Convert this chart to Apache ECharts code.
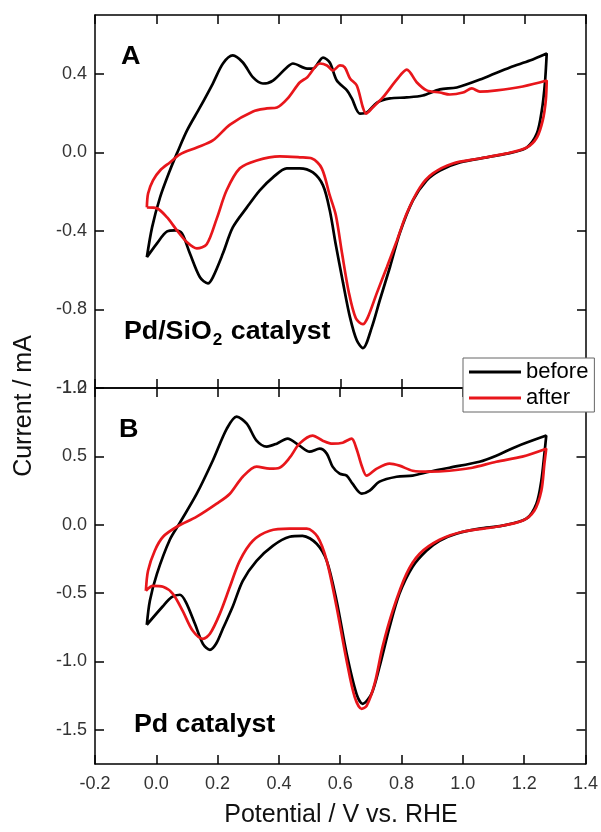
<!DOCTYPE html>
<html>
<head>
<meta charset="utf-8">
<script src="https://cdn.jsdelivr.net/npm/echarts@6/dist/echarts.min.js"></script>
<style>
  html, body { margin: 0; padding: 0; background: #fff; }
  #chart { width: 601px; height: 832px; }
</style>
</head>
<body>
<div id="chart"></div>
<script>
// tick values
const xTicks = [-0.2, 0.0, 0.2, 0.4, 0.6, 0.8, 1.0, 1.2, 1.4]
const yTicksA = [-1.2, -0.8, -0.4, 0.0, 0.4]
const yTicksB = [-1.5, -1.0, -0.5, 0.0, 0.5, 1.0]

// panel A (Pd/SiO2), [potential V, current mA], one closed CV loop each
const beforeA = [
  [-0.031, -0.534], [-0.014, -0.382], [0.012, -0.229], [0.044, -0.092], [0.067, -0.005],
  [0.100, 0.112], [0.142, 0.229], [0.184, 0.351], [0.217, 0.453], [0.249, 0.494],
  [0.282, 0.458], [0.315, 0.382], [0.347, 0.351], [0.380, 0.366], [0.425, 0.433],
  [0.445, 0.453], [0.491, 0.427], [0.510, 0.427], [0.543, 0.483], [0.565, 0.458],
  [0.588, 0.366], [0.621, 0.316], [0.637, 0.275], [0.663, 0.198], [0.686, 0.204],
  [0.719, 0.254], [0.761, 0.275], [0.816, 0.280], [0.868, 0.290], [0.924, 0.321],
  [0.979, 0.331], [1.064, 0.377], [1.152, 0.433], [1.217, 0.468], [1.272, 0.504],
  [1.266, 0.351], [1.256, 0.214], [1.240, 0.097], [1.207, 0.025], [1.161, 0.000],
  [1.077, -0.025], [0.989, -0.051], [0.924, -0.092], [0.881, -0.142], [0.836, -0.244],
  [0.793, -0.412], [0.761, -0.585], [0.728, -0.753], [0.702, -0.891], [0.673, -0.997],
  [0.653, -0.957], [0.631, -0.840], [0.608, -0.662], [0.585, -0.473], [0.565, -0.295],
  [0.543, -0.168], [0.510, -0.102], [0.467, -0.081], [0.425, -0.081], [0.380, -0.127],
  [0.337, -0.193], [0.295, -0.280], [0.249, -0.382], [0.217, -0.514], [0.184, -0.636],
  [0.168, -0.667], [0.142, -0.636], [0.109, -0.514], [0.083, -0.412], [0.061, -0.397],
  [0.035, -0.402], [0.002, -0.463], [-0.031, -0.534]
]
const afterA = [
  [-0.031, -0.280], [-0.027, -0.209], [-0.011, -0.142], [0.012, -0.092], [0.044, -0.051],
  [0.077, -0.010], [0.132, 0.025], [0.184, 0.061], [0.240, 0.142], [0.315, 0.209],
  [0.360, 0.224], [0.393, 0.229], [0.428, 0.275], [0.467, 0.356], [0.491, 0.382],
  [0.533, 0.453], [0.556, 0.443], [0.575, 0.417], [0.598, 0.443], [0.614, 0.433],
  [0.631, 0.377], [0.653, 0.341], [0.673, 0.229], [0.683, 0.198], [0.705, 0.229],
  [0.738, 0.280], [0.784, 0.372], [0.816, 0.422], [0.849, 0.356], [0.881, 0.316],
  [0.924, 0.305], [0.956, 0.295], [0.999, 0.305], [1.028, 0.326], [1.054, 0.310],
  [1.109, 0.316], [1.194, 0.336], [1.272, 0.366],
  [1.269, 0.265], [1.259, 0.163], [1.240, 0.076], [1.207, 0.025], [1.142, -0.005],
  [1.054, -0.031], [0.966, -0.056], [0.901, -0.107], [0.859, -0.178], [0.816, -0.310],
  [0.784, -0.448], [0.751, -0.585], [0.718, -0.718], [0.689, -0.840], [0.673, -0.875],
  [0.650, -0.845], [0.627, -0.712], [0.605, -0.514], [0.585, -0.321], [0.565, -0.219],
  [0.539, -0.081], [0.507, -0.031], [0.467, -0.025], [0.402, -0.020], [0.327, -0.041],
  [0.272, -0.081], [0.229, -0.193], [0.197, -0.336], [0.164, -0.468], [0.132, -0.489],
  [0.100, -0.458], [0.067, -0.397], [0.035, -0.331], [0.002, -0.285], [-0.031, -0.280]
]

// panel B (Pd)
const beforeB = [
  [-0.031, -0.732], [-0.021, -0.556], [0.002, -0.359], [0.044, -0.110], [0.077, 0.015],
  [0.132, 0.227], [0.184, 0.468], [0.230, 0.703], [0.262, 0.791], [0.295, 0.739],
  [0.327, 0.615], [0.360, 0.571], [0.393, 0.593], [0.428, 0.630], [0.467, 0.578],
  [0.500, 0.534], [0.533, 0.556], [0.556, 0.520], [0.575, 0.425], [0.598, 0.373],
  [0.621, 0.359], [0.640, 0.300], [0.670, 0.227], [0.696, 0.249], [0.728, 0.315],
  [0.784, 0.351], [0.836, 0.359], [0.891, 0.388], [0.956, 0.417], [1.054, 0.461],
  [1.109, 0.505], [1.174, 0.571], [1.272, 0.652],
  [1.266, 0.520], [1.256, 0.322], [1.240, 0.154], [1.207, 0.044], [1.129, -0.007],
  [1.054, -0.029], [0.979, -0.066], [0.924, -0.117], [0.881, -0.190], [0.836, -0.307],
  [0.793, -0.505], [0.761, -0.747], [0.728, -1.040], [0.702, -1.237], [0.673, -1.310],
  [0.653, -1.237], [0.621, -0.944], [0.588, -0.556], [0.556, -0.264], [0.523, -0.139],
  [0.477, -0.081], [0.435, -0.088], [0.380, -0.154], [0.327, -0.264], [0.282, -0.410],
  [0.249, -0.600], [0.217, -0.761], [0.195, -0.871], [0.175, -0.915], [0.152, -0.871],
  [0.126, -0.725], [0.096, -0.564], [0.077, -0.512], [0.050, -0.530], [0.020, -0.600],
  [-0.031, -0.732]
]
const afterB = [
  [-0.034, -0.483], [-0.027, -0.337], [-0.005, -0.190], [0.022, -0.088], [0.067, -0.015],
  [0.132, 0.059], [0.197, 0.154], [0.240, 0.227], [0.282, 0.351], [0.327, 0.425],
  [0.370, 0.410], [0.402, 0.417], [0.435, 0.490], [0.467, 0.593], [0.510, 0.652],
  [0.543, 0.615], [0.575, 0.593], [0.608, 0.600], [0.637, 0.630], [0.653, 0.556],
  [0.670, 0.432], [0.686, 0.359], [0.719, 0.410], [0.761, 0.447], [0.793, 0.432],
  [0.836, 0.395], [0.891, 0.388], [0.956, 0.395], [1.031, 0.417], [1.109, 0.461],
  [1.194, 0.498], [1.272, 0.556],
  [1.266, 0.447], [1.256, 0.249], [1.233, 0.102], [1.194, 0.029], [1.109, -0.015],
  [0.999, -0.051], [0.924, -0.110], [0.859, -0.212], [0.816, -0.359], [0.771, -0.630],
  [0.738, -0.893], [0.712, -1.164], [0.686, -1.325], [0.670, -1.347], [0.647, -1.259],
  [0.621, -0.996], [0.588, -0.600], [0.556, -0.264], [0.526, -0.088], [0.491, -0.029],
  [0.435, -0.029], [0.370, -0.044], [0.315, -0.117], [0.272, -0.264], [0.240, -0.454],
  [0.207, -0.652], [0.175, -0.798], [0.152, -0.835], [0.119, -0.776], [0.086, -0.630],
  [0.054, -0.505], [0.022, -0.454], [-0.011, -0.447], [-0.034, -0.483]
]

const FONT = 'Arial, "Liberation Sans", sans-serif'
const RED = '#e8161b'

const chart = echarts.init(document.getElementById('chart'))

function xAx(grid, pos, labels) {
  return {
    type: 'value', gridIndex: grid, position: pos, min: -0.2, max: 1.4,
    axisLine: { show: true, onZero: false, lineStyle: { color: '#000', width: 1.5 } },
    axisTick: { show: true, inside: true, length: 9, customValues: xTicks, lineStyle: { color: '#000', width: 1.5 } },
    axisLabel: {
      show: labels, customValues: xTicks, margin: 11, color: '#333',
      fontFamily: FONT, fontSize: 18, formatter: (v) => v.toFixed(1),
    },
    splitLine: { show: false },
  }
}
function yAx(grid, pos, min, max, ticks, labels) {
  return {
    type: 'value', gridIndex: grid, position: pos, min, max,
    axisLine: { show: true, onZero: false, lineStyle: { color: '#000', width: 1.5 } },
    axisTick: { show: true, inside: true, length: 9, customValues: ticks, lineStyle: { color: '#000', width: 1.5 } },
    axisLabel: {
      show: labels, customValues: ticks, margin: 8, color: '#333',
      fontFamily: FONT, fontSize: 18, formatter: (v) => v.toFixed(1),
    },
    splitLine: { show: false },
  }
}

const lineSeries = (name, data, color, xi, yi) => ({
  name, type: 'line', data, xAxisIndex: xi, yAxisIndex: yi,
  smooth: 0.3, showSymbol: false, symbol: 'none', silent: true,
  lineStyle: { color, width: 2.7 }, itemStyle: { color },
})

chart.setOption({
  animation: false,
  grid: [
    { left: 95, right: 15, top: 15, height: 373 },
    { left: 95, right: 15, top: 388, height: 376 },
  ],
  xAxis: [xAx(0, 'bottom', false), xAx(0, 'top', false), xAx(1, 'bottom', true), xAx(1, 'top', false)],
  yAxis: [
    yAx(0, 'left', -1.2, 0.7, yTicksA, true), yAx(0, 'right', -1.2, 0.7, yTicksA, false),
    yAx(1, 'left', -1.75, 1.0, yTicksB, true), yAx(1, 'right', -1.75, 1.0, yTicksB, false),
  ],
  legend: {
    data: ['before', 'after'], orient: 'vertical', left: 463, top: 358,
    icon: 'rect', itemWidth: 52, itemHeight: 3, itemGap: 4,
    padding: [3, 6, 3, 6], borderColor: '#666', borderWidth: 1, backgroundColor: '#fff',
    textStyle: { fontFamily: FONT, fontSize: 22, color: '#000' },
  },
  series: [
    lineSeries('before', beforeA, '#000', 0, 0),
    lineSeries('after', afterA, RED, 0, 0),
    lineSeries('before', beforeB, '#000', 2, 2),
    lineSeries('after', afterB, RED, 2, 2),
  ],
  graphic: [
    { type: 'text', x: 121, y: 57, scaleX: 1.08, style: { text: 'A', font: 'bold 25px ' + FONT, fill: '#000', verticalAlign: 'middle' } },
    { type: 'text', x: 119, y: 430, scaleX: 1.08, style: { text: 'B', font: 'bold 25px ' + FONT, fill: '#000', verticalAlign: 'middle' } },
    {
      type: 'text', x: 124, y: 320, scaleX: 1.07,
      style: {
        text: '{b|Pd/SiO}{s|2}{b| catalyst}', verticalAlign: 'top',
        rich: {
          b: { fontFamily: FONT, fontWeight: 'bold', fontSize: 25, lineHeight: 28, verticalAlign: 'top', fill: '#000' },
          s: { fontFamily: FONT, fontWeight: 'bold', fontSize: 16, lineHeight: 16, padding: [14, 1, 0, 1], fill: '#000' },
        },
      },
    },
    { type: 'text', x: 134, y: 725, scaleX: 1.07, style: { text: 'Pd catalyst', font: 'bold 25px ' + FONT, fill: '#000', verticalAlign: 'middle' } },
    {
      type: 'text', x: 24, y: 406, rotation: Math.PI / 2,
      style: { text: 'Current / mA', font: '25px ' + FONT, fill: '#111', align: 'center', verticalAlign: 'middle' },
    },
    { type: 'text', x: 341, y: 815, style: { text: 'Potential / V vs. RHE', font: '25px ' + FONT, fill: '#111', align: 'center', verticalAlign: 'middle' } },
  ],
})
</script>
</body>
</html>
